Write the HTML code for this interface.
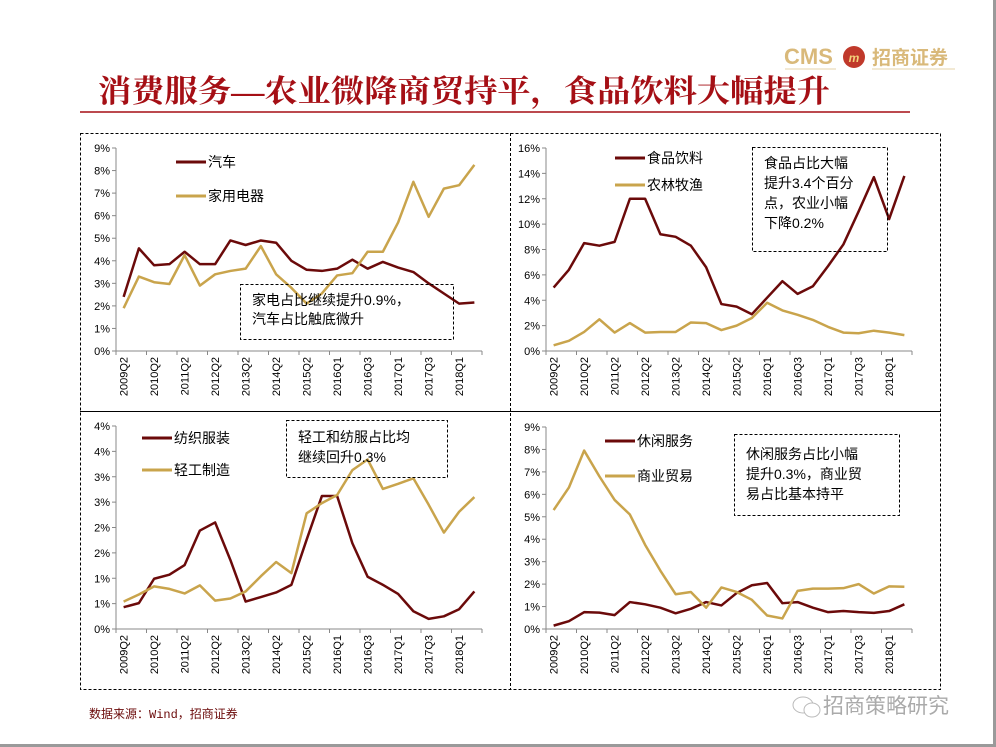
<!DOCTYPE html>
<html><head><meta charset="utf-8"><style>
html,body{margin:0;padding:0;background:#fff;}
body{width:996px;height:747px;position:relative;overflow:hidden;font-family:"Liberation Sans","Noto Sans CJK SC",sans-serif;}
svg{position:absolute;left:0;top:0;}
</style></head><body>
<svg id="root" width="996" height="747" viewBox="0 0 996 747">
  <rect x="993" y="0" width="3" height="747" fill="#9a9a9a"/>
  <rect x="0" y="744" width="996" height="3" fill="#9a9a9a"/>
  <g>
    <text x="784" y="64" font-size="22" font-weight="bold" fill="#d9b97a" font-family="Liberation Sans, sans-serif">CMS</text>
    <circle cx="854" cy="57" r="11" fill="#c0392b"/>
    <text x="854" y="62" font-size="12" font-weight="bold" fill="#f3d27a" text-anchor="middle" font-style="italic">m</text>
    <text x="872" y="64" font-size="19" font-weight="bold" fill="#d9b97a" font-family="Liberation Sans, Noto Sans CJK SC, sans-serif">招商证券</text>
    <line x1="785" y1="69" x2="836" y2="69" stroke="#e6d3a8" stroke-width="1"/>
    <line x1="872" y1="69" x2="955" y2="69" stroke="#e6d3a8" stroke-width="1"/>
  </g>
  <text x="98" y="102" font-size="31" font-weight="bold" fill="#a50f15" textLength="732" lengthAdjust="spacingAndGlyphs" font-family="Liberation Serif, Noto Serif CJK SC, serif">消费服务—农业微降商贸持平，食品饮料大幅提升</text>
  <line x1="80" y1="112" x2="910" y2="112" stroke="#a50f15" stroke-width="1.5"/>
  <rect x="80.5" y="133.5" width="860" height="556" fill="none" stroke="#000" stroke-dasharray="3,2"/>
  <line x1="510.5" y1="133" x2="510.5" y2="690" stroke="#000" stroke-dasharray="3,2"/>
  <line x1="80" y1="411.5" x2="941" y2="411.5" stroke="#000"/>
  <text x="89" y="718" font-size="12" fill="#6b0a0a" font-family="Liberation Mono, Noto Sans CJK SC, monospace">数据来源：Wind，招商证券</text>
  <g>
    <ellipse cx="803" cy="705" rx="10" ry="8" fill="none" stroke="#bbb"/>
    <ellipse cx="812" cy="710" rx="8" ry="7" fill="#fff" stroke="#bbb"/>
    <text x="823" y="713" font-size="21" fill="#aaa">招商策略研究</text>
  </g>
  <g id="charts"></g>
</svg>
<script>
const categories = ["2009Q2","2009Q4","2010Q2","2010Q4","2011Q2","2011Q4","2012Q2","2012Q4","2013Q2","2013Q4","2014Q2","2014Q4","2015Q2","2015Q4","2016Q1","2016Q2","2016Q3","2016Q4","2017Q1","2017Q2","2017Q3","2017Q4","2018Q1","2018Q2"];
const autoValues = [2.4,4.55,3.8,3.85,4.4,3.85,3.85,4.9,4.7,4.9,4.8,4.0,3.6,3.55,3.65,4.05,3.65,3.95,3.7,3.5,3.0,2.55,2.1,2.15];
const applianceValues = [1.9,3.3,3.05,2.97,4.25,2.9,3.4,3.55,3.65,4.65,3.4,2.8,2.1,2.55,3.35,3.45,4.4,4.4,5.7,7.5,5.95,7.2,7.35,8.25];
const foodValues = [5.0,6.4,8.5,8.3,8.6,12.0,12.0,9.2,9.0,8.3,6.6,3.7,3.5,2.9,4.2,5.5,4.5,5.1,6.7,8.4,11.0,13.7,10.4,13.8];
const agriValues = [0.45,0.8,1.5,2.5,1.45,2.2,1.45,1.5,1.5,2.25,2.2,1.65,2.0,2.6,3.8,3.2,2.85,2.45,1.9,1.45,1.4,1.6,1.45,1.25];
const textileValues = [0.43,0.51,0.99,1.07,1.26,1.94,2.10,1.36,0.54,0.63,0.72,0.87,1.76,2.62,2.62,1.69,1.03,0.87,0.69,0.35,0.2,0.25,0.39,0.74];
const lightValues = [0.54,0.68,0.84,0.79,0.70,0.86,0.56,0.6,0.74,1.04,1.32,1.1,2.28,2.48,2.64,3.13,3.34,2.76,2.86,2.97,2.45,1.9,2.31,2.6];
const leisureValues = [0.15,0.35,0.75,0.73,0.62,1.2,1.1,0.95,0.7,0.9,1.2,1.05,1.6,1.95,2.05,1.15,1.2,0.95,0.75,0.8,0.75,0.72,0.8,1.1];
const tradeValues = [5.3,6.3,7.95,6.8,5.75,5.1,3.75,2.6,1.55,1.65,0.95,1.85,1.65,1.3,0.6,0.47,1.7,1.8,1.8,1.82,2.0,1.58,1.9,1.88];
const tickLabels1 = ["0%","1%","2%","3%","4%","5%","6%","7%","8%","9%"];
const tickLabels2 = ["0%","2%","4%","6%","8%","10%","12%","14%","16%"];
const tickLabels3 = ["0%","1%","1%","2%","2%","3%","3%","4%","4%"];

const NS="http://www.w3.org/2000/svg";
const DARK="#6b0a0a", GOLD="#c9a44c";
function mk(tag,attrs,parent){const e=document.createElementNS(NS,tag);for(const k in attrs)e.setAttribute(k,attrs[k]);parent.appendChild(e);return e;}
const root=document.getElementById('charts');

function chart(cfg){
  const g=mk('g',{},root);
  
  
  const x0=cfg.x0,x1=x0+366,yb=cfg.yb,yt=cfg.yt;
  const n=categories.length,step=(x1-x0)/n;
  const xs=i=>x0+(i+0.5)*step;
  const ys=v=>yb-(v/cfg.max)*(yb-yt);
  const ya=mk('line',{x1:x0,y1:yt,x2:x0,y2:yb,stroke:'#888'},g);
  
  
  const nt=cfg.ticks.length-1;
  cfg.ticks.forEach((t,i)=>{
    const y=yb-i*(yb-yt)/nt;
    const tk=mk('line',{x1:x0-4,y1:y,x2:x0,y2:y,stroke:'#888'},g);
    
    
    const tx=mk('text',{x:x0-6,y:y+4,'font-size':11,'text-anchor':'end',fill:'#000'},g);
    tx.textContent=t;
    
    
  });
  const xa=mk('line',{x1:x0,y1:yb,x2:x1,y2:yb,stroke:'#888'},g);
  
  
  for(let i=0;i<=n;i+=2){
    const x=x0+i*step;
    const tk=mk('line',{x1:x,y1:yb,x2:x,y2:yb+4,stroke:'#888'},g);
    
    
  }
  categories.forEach((c,i)=>{
    if(i%2) return;
    const x=xs(i)+4,y=yb+6;
    const tx=mk('text',{x:x,y:y,'font-size':11,'text-anchor':'end',fill:'#000',transform:`rotate(-90 ${x} ${y})`},g);
    tx.textContent=c;
    
    
  });
  cfg.series.forEach((s,si)=>{
    const p=mk('polyline',{points:s.values.map((v,i)=>xs(i)+','+ys(v)).join(' '),fill:'none',stroke:s.color,'stroke-width':2.5,'stroke-linejoin':'round'},g);
    
    
    const ly=cfg.legY[si];
    const ll=mk('line',{x1:cfg.legX,y1:ly,x2:cfg.legX+30,y2:ly,stroke:s.color,'stroke-width':3},g);
    
    
    const lt=mk('text',{x:cfg.legX+32,y:ly+5,'font-size':14,fill:'#000'},g);
    lt.textContent=s.label;
    
    
  });
  const b=cfg.box;
  const r=mk('rect',{x:b[0]+.5,y:b[1]+.5,width:b[2]-b[0],height:b[3]-b[1],fill:'#fff','fill-opacity':0,stroke:'#000','stroke-dasharray':'3,2'},g);
  
  
  cfg.note.forEach((line,i)=>{
    const t=mk('text',{x:b[0]+12,y:b[1]+cfg.noteY+i*cfg.noteLH,'font-size':14,fill:'#000'},g);
    t.textContent=line;
    
    
  });
}

chart({name:'chart-auto-appliance',x0:116,yb:351,yt:148,max:9,ticks:tickLabels1,legX:176,legY:[162,196],
  series:[{key:'auto',label:'汽车',values:autoValues,color:DARK},{key:'appliance',label:'家用电器',values:applianceValues,color:GOLD}],
  box:[240,284,453,339],note:['家电占比继续提升0.9%，','汽车占比触底微升'],noteY:21,noteLH:19});
chart({name:'chart-food-agri',x0:546,yb:351,yt:148,max:16,ticks:tickLabels2,legX:615,legY:[158,185],
  series:[{key:'food',label:'食品饮料',values:foodValues,color:DARK},{key:'agri',label:'农林牧渔',values:agriValues,color:GOLD}],
  box:[752,147,887,251],note:['食品占比大幅','提升3.4个百分','点，农业小幅','下降0.2%'],noteY:21,noteLH:20});
chart({name:'chart-textile-light',x0:116,yb:629,yt:426,max:4,ticks:tickLabels3,legX:142,legY:[438,470],
  series:[{key:'textile',label:'纺织服装',values:textileValues,color:DARK},{key:'light',label:'轻工制造',values:lightValues,color:GOLD}],
  box:[286,420,447,477],note:['轻工和纺服占比均','继续回升0.3%'],noteY:22,noteLH:20});
chart({name:'chart-leisure-trade',x0:546,yb:629,yt:427,max:9,ticks:tickLabels1,legX:605,legY:[441,476],
  series:[{key:'leisure',label:'休闲服务',values:leisureValues,color:DARK},{key:'trade',label:'商业贸易',values:tradeValues,color:GOLD}],
  box:[734,434,899,515],note:['休闲服务占比小幅','提升0.3%，商业贸','易占比基本持平'],noteY:25,noteLH:20});
</script>
</body></html>
